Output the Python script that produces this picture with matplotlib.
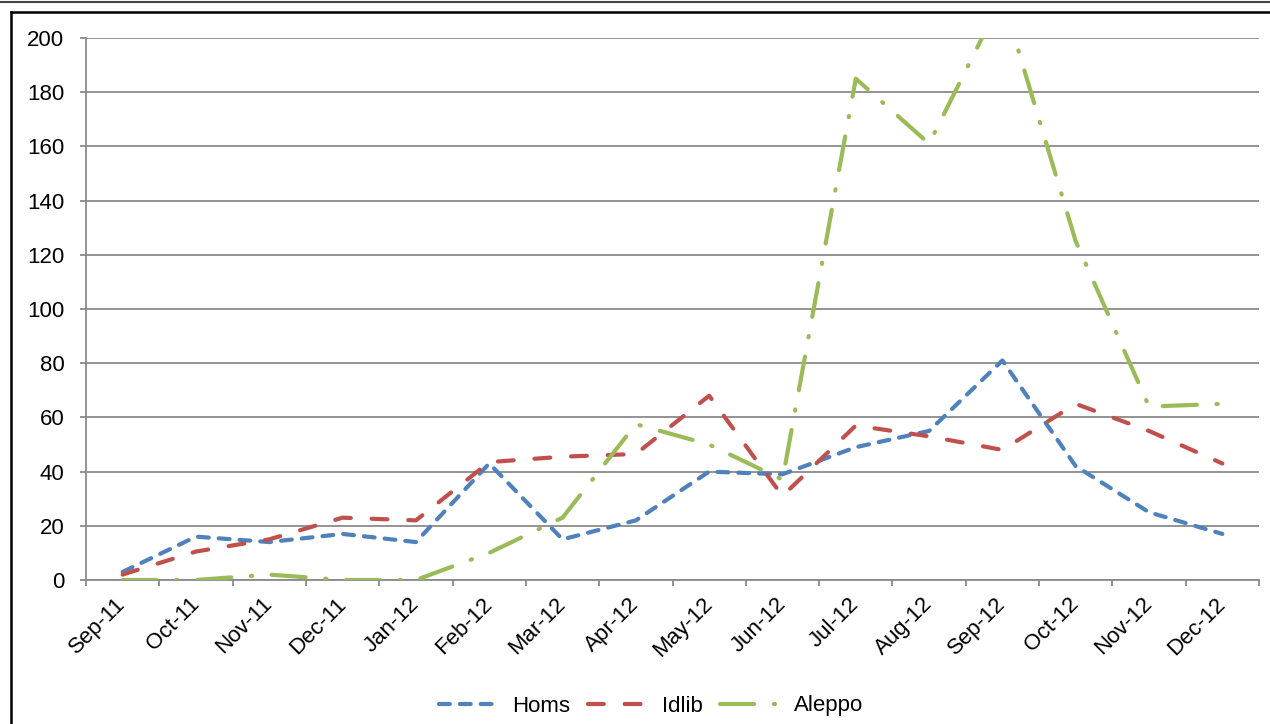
import matplotlib
matplotlib.use("Agg")
import matplotlib.pyplot as plt
from matplotlib.lines import Line2D
import numpy as np

months = ['Sep-11', 'Oct-11', 'Nov-11', 'Dec-11', 'Jan-12', 'Feb-12', 'Mar-12', 'Apr-12',
          'May-12', 'Jun-12', 'Jul-12', 'Aug-12', 'Sep-12', 'Oct-12', 'Nov-12', 'Dec-12']
homs = [3, 16, 14, 17, 14, 43, 15, 22, 40, 39, 49, 55, 81, 42, 25, 17]
idlib = [2, 10.5, 15, 23, 22, 43.5, 45.5, 46.5, 68, 31, 57, 53, 48, 65, 55, 43]
aleppo = [0, 0, 2, 0, 0, 10, 23, 57.5, 50, 37, 185, 161, 215, 125, 64, 65]
y_ticks = [0, 20, 40, 60, 80, 100, 120, 140, 160, 180, 200]

plt.rcParams['font.family'] = ['Liberation Sans', 'DejaVu Sans']

W, H = 1270, 724
fig = plt.figure(figsize=(W / 100, H / 100), dpi=100)
ax = fig.add_axes([86 / W, 1 - 580 / H, 1173 / W, 542 / H])

x = np.arange(len(months))
lw = 3.0
l1, = ax.plot(x, homs, color='#4F81BD', lw=lw, dashes=(2.6, 2.4),
              dash_capstyle='round', solid_capstyle='round', label='Homs', zorder=3)
l2, = ax.plot(x, idlib, color='#C0504D', lw=lw, dashes=(3.8, 5.0),
              dash_capstyle='round', solid_capstyle='round', label='Idlib', zorder=3)
l3, = ax.plot(x, aleppo, color='#9BBB59', lw=lw, dashes=(8.2, 4.7, 0.3, 4.7),
              dash_capstyle='round', solid_capstyle='round', label='Aleppo', zorder=3)

grid_c = '#8a8a8a'
ax.set_xlim(-0.5, len(months) - 0.5)
ax.set_ylim(0, 200)
ax.set_yticks(y_ticks)
ax.set_yticklabels([str(v) for v in y_ticks])
ax.yaxis.grid(True, color=grid_c, lw=1.3)
ax.set_axisbelow(True)
for s in ['top', 'right']:
    ax.spines[s].set_visible(False)
for s in ['left', 'bottom']:
    ax.spines[s].set_color(grid_c)
    ax.spines[s].set_linewidth(1.3)

ax.set_xticks(x)
ax.set_xticklabels(months, rotation=45, ha='right', va='center', rotation_mode='anchor')
ax.set_xticks(np.arange(-0.5, len(months), 1.0), minor=True)
ax.tick_params(axis='x', which='major', length=0, pad=15, labelsize=16)
ax.tick_params(axis='x', which='minor', length=4.5, width=1.3, color=grid_c, direction='out')
ax.tick_params(axis='y', length=4.5, width=1.3, color=grid_c, direction='out', pad=11, labelsize=16)

fig.legend(handles=[l1, l2, l3], loc='center', bbox_to_anchor=(651 / W, 1 - 706 / H),
           ncol=3, frameon=False, fontsize=16, handlelength=2.75, columnspacing=0.8,
           handletextpad=0.55)

# chart frame
fig.add_artist(Line2D([0, 1], [1 - 1.5 / H, 1 - 1.5 / H], color='#444444', lw=1.5,
                      transform=fig.transFigure))
fig.add_artist(Line2D([11 / W, 1], [1 - 12 / H, 1 - 12 / H], color='black', lw=1.8,
                      transform=fig.transFigure))
fig.add_artist(Line2D([11 / W, 11 / W], [1 - 12 / H, 0], color='black', lw=1.8,
                      transform=fig.transFigure))

fig.savefig('out.png', dpi=100)
